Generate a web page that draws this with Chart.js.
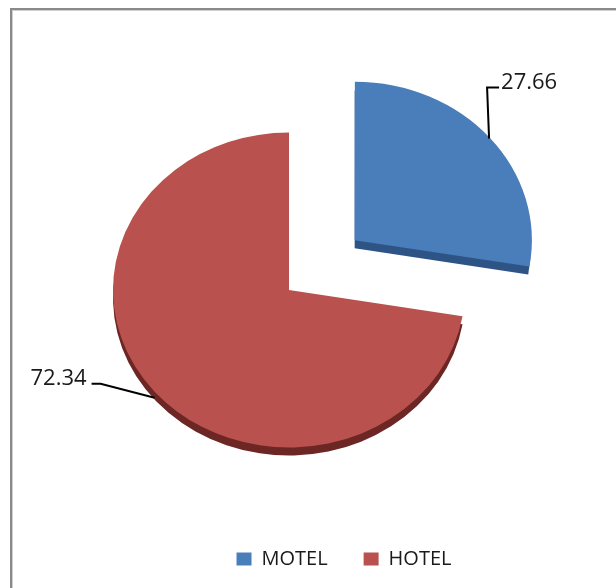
<!DOCTYPE html>
<html>
<head>
<meta charset="utf-8">
<script src="https://cdn.jsdelivr.net/npm/chart.js@4"></script>
<style>
  html, body { margin: 0; padding: 0; background: #fff; overflow: hidden; }
  #frame { position: absolute; left: 10px; top: 8px; width: 1000px; height: 1000px;
           border-top: 2px solid #8a8a8a; border-left: 2px solid #8a8a8a;
           box-shadow: inset 1px 1px 0 #d0d0d0; }
  #pieChart { position: absolute; left: 0; top: 0; }
</style>
</head>
<body>
<div id="frame"></div>
<canvas id="pieChart" width="616" height="588"></canvas>
<script>
// Dados do gráfico
const categories = ['MOTEL', 'HOTEL'];
const shares = [27.66, 72.34];
const valueLabels = ['27.66', '72.34'];

// Aparência do "3D" (inclinação e espessura)
const TILT = 0.895;
const DEPTH = 8;
const CENTER = { x: 289, y: 290 };
const wallColors = ['#2E5486', '#6C2624'];

// forma das linhas de chamada, relativas ao ponto no arco
const leaders = [
    { bend: [-2, -51], end: [10, -51], align: 'left' },
    { bend: [-54, -14], end: [-63, -14], align: 'right' }
];

// centro da fatia (com o deslocamento do explode) em coords do gráfico
function sliceCenter(el) {
    const off = (el.options.offset || 0) / 4;
    const mid = (el.startAngle + el.endAngle) / 2;
    return { x: el.x + Math.cos(mid) * off, y: el.y + Math.sin(mid) * off, mid };
}

// inclina a pizza e desenha a parede lateral
const tiltPlugin = {
    id: 'tilt',
    beforeDatasetsDraw(chart) {
        const meta = chart.getDatasetMeta(0);
        const ctx = chart.ctx;
        const first = meta.data[0];
        ctx.save();
        ctx.translate(CENTER.x, CENTER.y);
        ctx.scale(1, TILT);
        ctx.translate(-first.x, -first.y);
        meta.data.forEach((el, i) => {
            const c = sliceCenter(el);
            const y = c.y + DEPTH / TILT;
            ctx.beginPath();
            ctx.moveTo(c.x, y);
            ctx.arc(c.x, y, el.outerRadius, el.startAngle, el.endAngle);
            ctx.closePath();
            ctx.fillStyle = wallColors[i];
            ctx.fill();
        });
    },
    afterDatasetsDraw(chart) {
        chart.ctx.restore();
    }
};

// rótulos de valor com linhas de chamada
const leaderPlugin = {
    id: 'leaders',
    afterDraw(chart) {
        const meta = chart.getDatasetMeta(0);
        const ctx = chart.ctx;
        const first = meta.data[0];
        meta.data.forEach((el, i) => {
            const c = sliceCenter(el);
            const px = c.x + Math.cos(c.mid) * el.outerRadius;
            const py = c.y + Math.sin(c.mid) * el.outerRadius;
            const ax = CENTER.x + (px - first.x);
            let ay = CENTER.y + (py - first.y) * TILT;
            if (Math.sin(c.mid) > 0) ay += DEPTH - 2;
            const L = leaders[i];
            const ex = ax + L.end[0], ey = ay + L.end[1];
            ctx.save();
            ctx.strokeStyle = '#000';
            ctx.lineWidth = 2;
            ctx.beginPath();
            ctx.moveTo(ax, ay);
            ctx.lineTo(ax + L.bend[0], ay + L.bend[1]);
            ctx.lineTo(ex, ey);
            ctx.stroke();
            ctx.fillStyle = '#1a1a1a';
            ctx.font = '22px "Open Sans"';
            ctx.textAlign = L.align;
            ctx.textBaseline = 'alphabetic';
            const tx = L.align === 'left' ? ex + 2 : ex - 5;
            ctx.fillText(valueLabels[i], tx, ey + 1);
            ctx.restore();
        });
    }
};

function initChart() {
    const ctx = document.getElementById('pieChart').getContext('2d');
    new Chart(ctx, {
        type: 'pie',
        data: {
            labels: categories,
            datasets: [{
                data: shares,
                backgroundColor: ['#4A7EBB', '#B9514E'],
                borderWidth: 0,
                offset: [344, 0],
                radius: 176,
                hoverOffset: 0
            }]
        },
        options: {
            responsive: false,
            devicePixelRatio: 1,
            animation: false,
            clip: false,
            layout: { padding: { left: 72, right: 0, top: 20, bottom: 9 } },
            plugins: {
                tooltip: { enabled: false },
                legend: {
                    position: 'bottom',
                    labels: {
                        boxWidth: 15,
                        boxHeight: 13,
                        padding: 36,
                        color: '#1a1a1a',
                        font: { family: '"Open Sans"', size: 20 }
                    }
                }
            }
        },
        plugins: [tiltPlugin, leaderPlugin]
    });
}

document.addEventListener('DOMContentLoaded', initChart);
</script>
</body>
</html>
